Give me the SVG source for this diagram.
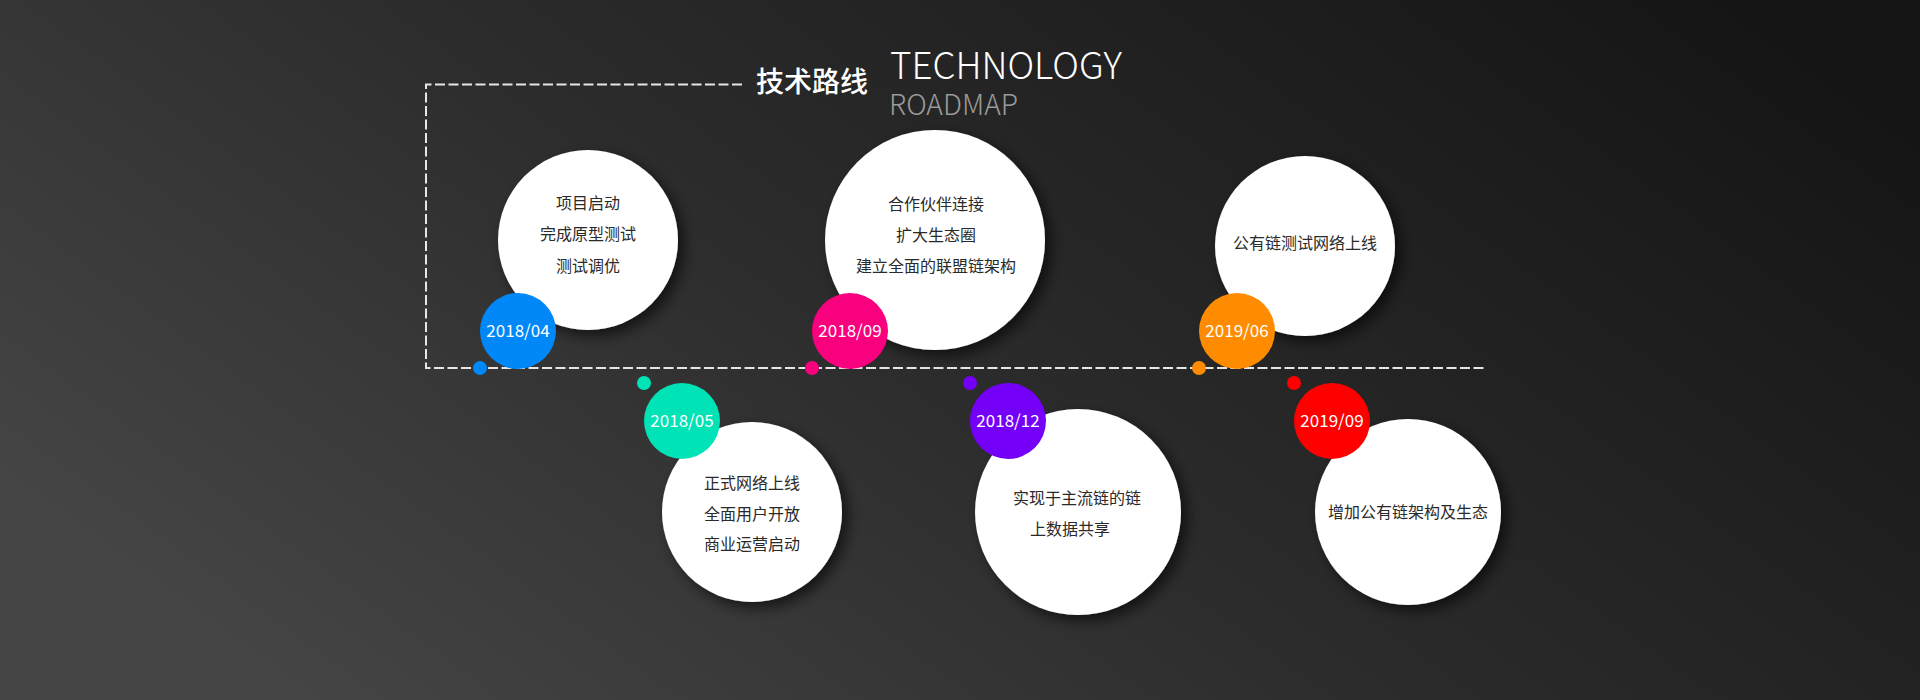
<svg xmlns="http://www.w3.org/2000/svg" width="1920" height="700" viewBox="0 0 1920 700">
<defs>
<linearGradient id="bg" x1="0" y1="0.7" x2="1" y2="0.2">
<stop offset="0" stop-color="#454545"/>
<stop offset="0.45" stop-color="#2c2c2c"/>
<stop offset="1" stop-color="#151515"/>
</linearGradient>
<filter id="sh" x="-30%" y="-30%" width="170%" height="170%">
<feDropShadow dx="6" dy="6" stdDeviation="7" flood-color="#000" flood-opacity="0.6"/>
</filter>
<style>
.dash{fill:none;stroke:#e6e6e6;stroke-width:2;stroke-dasharray:10 3.5}
.card{fill:#fff;filter:url(#sh)}
.body{font-family:"Noto Sans CJK SC","Noto Sans",sans-serif;font-size:16px;fill:#2a2a2a;text-anchor:middle}
.date{font-family:"Noto Sans CJK SC","Noto Sans",sans-serif;font-size:17px;fill:#fff;text-anchor:middle}
</style>
</defs>
<rect width="1920" height="700" fill="url(#bg)"/>

<g id="title">
<text x="756" y="92" font-family="'Noto Sans CJK SC',sans-serif" font-size="28" font-weight="500" fill="#fff">技术路线</text>
<text x="890" y="79" font-family="'Noto Sans CJK SC','Noto Sans',sans-serif" font-size="37" font-weight="300" fill="#fff" textLength="232" lengthAdjust="spacingAndGlyphs">TECHNOLOGY</text>
<text x="889" y="115" font-family="'Noto Sans CJK SC','Noto Sans',sans-serif" font-size="29" font-weight="300" fill="#9a9a9a" textLength="129" lengthAdjust="spacingAndGlyphs">ROADMAP</text>
</g>

<g id="connectors">
<path class="dash" d="M742 84.5 H426 V368 H1487"/>
</g>

<g id="n-2018-04">
<circle class="card" cx="588" cy="240" r="90"/>
<text class="body" x="588" y="209">项目启动</text>
<text class="body" x="588" y="240">完成原型测试</text>
<text class="body" x="588" y="272">测试调优</text>
<circle cx="518" cy="331" r="38" fill="#0088f8"/>
<text class="date" x="518" y="337">2018/04</text>
<circle cx="480" cy="368" r="7" fill="#0088f8"/>
</g>

<g id="n-2018-05">
<circle class="card" cx="752" cy="512" r="90"/>
<text class="body" x="752" y="489">正式网络上线</text>
<text class="body" x="752" y="520">全面用户开放</text>
<text class="body" x="752" y="550">商业运营启动</text>
<circle cx="682" cy="421" r="38" fill="#00e3b6"/>
<text class="date" x="682" y="427">2018/05</text>
<circle cx="644" cy="383" r="7" fill="#00e3b6"/>
</g>

<g id="n-2018-09">
<circle class="card" cx="935" cy="240" r="110"/>
<text class="body" x="936" y="210">合作伙伴连接</text>
<text class="body" x="936" y="241">扩大生态圈</text>
<text class="body" x="936" y="272">建立全面的联盟链架构</text>
<circle cx="850" cy="331" r="38" fill="#f8007e"/>
<text class="date" x="850" y="337">2018/09</text>
<circle cx="812" cy="368" r="7" fill="#f8007e"/>
</g>

<g id="n-2018-12">
<circle class="card" cx="1078" cy="512" r="103"/>
<text class="body" x="1077" y="504">实现于主流链的链</text>
<text class="body" x="1070" y="535">上数据共享</text>
<circle cx="1008" cy="421" r="38" fill="#7400f8"/>
<text class="date" x="1008" y="427">2018/12</text>
<circle cx="970" cy="383" r="7" fill="#7400f8"/>
</g>

<g id="n-2019-06">
<circle class="card" cx="1305" cy="246" r="90"/>
<text class="body" x="1305" y="249">公有链测试网络上线</text>
<circle cx="1237" cy="331" r="38" fill="#ff8c00"/>
<text class="date" x="1237" y="337">2019/06</text>
<circle cx="1199" cy="368" r="7" fill="#ff8c00"/>
</g>

<g id="n-2019-09">
<circle class="card" cx="1408" cy="512" r="93"/>
<text class="body" x="1408" y="518">增加公有链架构及生态</text>
<circle cx="1332" cy="421" r="38" fill="#ff0000"/>
<text class="date" x="1332" y="427">2019/09</text>
<circle cx="1294" cy="383" r="7" fill="#ff0000"/>
</g>
</svg>
